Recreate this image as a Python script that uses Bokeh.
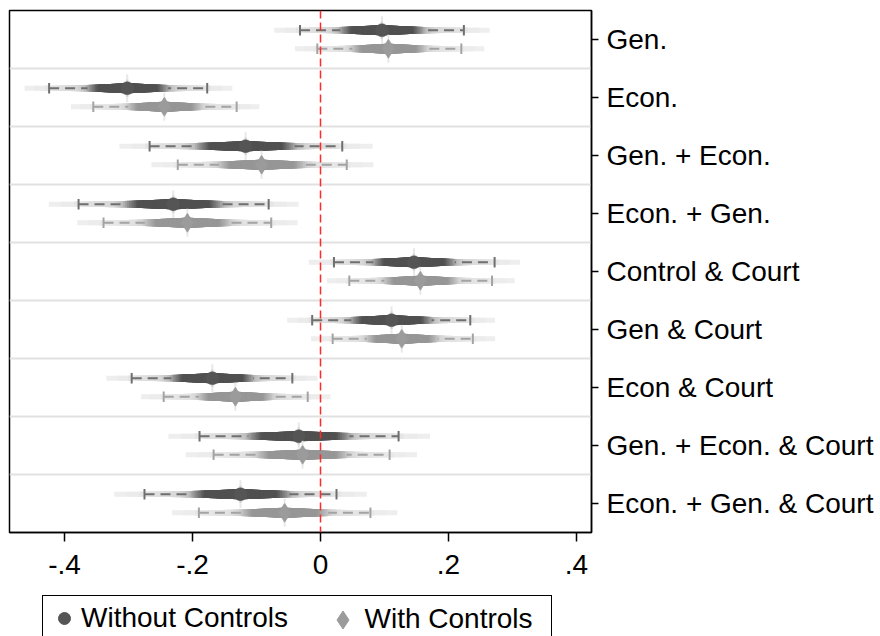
from statistics import NormalDist
import numpy as np
from bokeh.plotting import figure
from bokeh.layouts import column
from bokeh.models import FixedTicker, Span, Legend, LegendItem, Range1d
from bokeh.embed import file_html
from bokeh.resources import INLINE

# ---------------- data ----------------
categories = ["Gen.", "Econ.", "Gen. + Econ.", "Econ. + Gen.", "Control & Court",
              "Gen & Court", "Econ & Court", "Gen. + Econ. & Court", "Econ. + Gen. & Court"]

est_without = [0.096, -0.302, -0.117, -0.230, 0.146, 0.111, -0.169, -0.034, -0.125]
lo_without = [-0.032, -0.424, -0.267, -0.378, 0.021, -0.013, -0.295, -0.189, -0.275]
hi_without = [0.224, -0.177, 0.034, -0.081, 0.272, 0.234, -0.044, 0.122, 0.025]

est_with = [0.106, -0.244, -0.092, -0.208, 0.156, 0.127, -0.133, -0.028, -0.056]
lo_with = [-0.005, -0.355, -0.223, -0.339, 0.045, 0.019, -0.245, -0.167, -0.190]
hi_with = [0.220, -0.131, 0.041, -0.077, 0.268, 0.238, -0.020, 0.108, 0.078]

tick_values = [-0.4, -0.2, 0.0, 0.2, 0.4]
tick_labels = ["-.4", "-.2", "0", ".2", ".4"]
series_names = ["Without Controls", "With Controls"]

# ---------------- figure ----------------
FONT = "Liberation Sans"
n = len(categories)
ycent = [n - 0.5 - i for i in range(n)]

p = figure(frame_width=582, frame_height=522, output_backend="svg", toolbar_location=None,
           x_range=Range1d(-0.4859, 0.4234), y_range=Range1d(0, n),
           y_axis_location="right", min_border_left=9, min_border_top=10,
           min_border_bottom=63, min_border_right=0,
           background_fill_color="white", border_fill_color="white")
p.grid.visible = False
p.outline_line_color = "black"
p.outline_line_width = 1.5

# x axis
xa = p.xaxis[0]
xa.ticker = FixedTicker(ticks=tick_values)
xa.major_label_overrides = {v: l for v, l in zip(tick_values, tick_labels)}
xa.major_tick_out = 9
xa.major_tick_in = 0
xa.minor_tick_out = 0
xa.minor_tick_in = 0
xa.major_label_standoff = 13
xa.axis_line_width = 1.5
xa.major_tick_line_width = 1.5
xa.major_label_text_font = FONT
xa.major_label_text_font_size = "28px"
xa.major_label_text_color = "black"

# y axis (right)
ya = p.yaxis[0]
ya.ticker = FixedTicker(ticks=ycent)
ya.major_label_overrides = {v: c for v, c in zip(ycent, categories)}
ya.major_tick_out = 7
ya.major_tick_in = 0
ya.minor_tick_out = 0
ya.minor_tick_in = 0
ya.major_label_standoff = 8
ya.axis_line_width = 1.5
ya.major_tick_line_width = 1.5
ya.major_label_text_font = FONT
ya.major_label_text_font_size = "28px"
ya.major_label_text_color = "black"

# group separators
for k in range(1, n):
    p.add_layout(Span(location=k, dimension="width", line_color="#e1e1e1",
                      line_width=2, level="underlay"))

# ---------------- smoothed confidence spindles ----------------
levels = [0.99] + [i / 50 for i in range(49, 0, -1)]   # outer -> inner
LIGHT = (238, 238, 238)
t_knots_L = [0.0, 0.55, 0.65, 0.72, 0.80, 0.95, 0.99]
t_knots_t = [0.0, 0.0, 0.35, 0.70, 0.85, 0.92, 1.0]
Z95 = NormalDist().inv_cdf(0.975)


def blend(base, t):
    return "#%02x%02x%02x" % tuple(int(round(b + (l - b) * t)) for b, l in zip(base, LIGHT))


series = [
    dict(est=est_without, lo=lo_without, hi=hi_without, dy=0.16, base=(80, 80, 80),
         bar="#6f6f6f", marker="circle", msize=13, mcolor="#555555"),
    dict(est=est_with, lo=lo_with, hi=hi_with, dy=-0.16, base=(150, 150, 150),
         bar="#a3a3a3", marker="diamond", msize=19, mcolor="#9b9b9b"),
]

for s in series:
    ys = [c + s["dy"] for c in ycent]
    est, lo, hi = s["est"], s["lo"], s["hi"]
    # light vertical glow through the estimate
    p.segment(x0=est, x1=est, y0=[y - 0.24 for y in ys], y1=[y + 0.24 for y in ys],
              line_color="#e8e8e8", line_width=2)
    p.segment(x0=est, x1=est, y0=[y - 0.15 for y in ys], y1=[y + 0.15 for y in ys],
              line_color="#d8d8d8", line_width=2.5)

    dashed_done = False
    for L in levels:
        if L < 0.7 and not dashed_done:
            # 95% interval, dashed with caps
            p.segment(x0=lo, x1=hi, y0=ys, y1=ys, line_color=s["bar"], line_width=2,
                      line_dash="10 6")
            for xx in (lo, hi):
                p.segment(x0=xx, x1=xx, y0=[y - 0.09 for y in ys],
                          y1=[y + 0.09 for y in ys], line_color=s["bar"], line_width=2)
            dashed_done = True
        f = NormalDist().inv_cdf((1 + L) / 2) / Z95
        t = float(np.interp(L, t_knots_L, t_knots_t))
        w = 10.5 - 5.5 * L
        x0 = [e - f * (e - l) for e, l in zip(est, lo)]
        x1 = [e + f * (h - e) for e, h in zip(est, hi)]
        p.segment(x0=x0, x1=x1, y0=ys, y1=ys, line_color=blend(s["base"], t),
                  line_width=w, line_cap="butt")

    p.scatter(x=est, y=ys, marker=s["marker"], size=s["msize"],
              fill_color=s["mcolor"], line_color=s["mcolor"], line_width=0.5)

# zero line
p.add_layout(Span(location=0, dimension="height", line_color="#ff2a2a",
                  line_width=1.5, line_dash="8 4"))

# ---------------- legend (own strip below the chart) ----------------
lf = figure(width=873, height=41, output_backend="svg", toolbar_location=None,
            x_range=Range1d(0, 1), y_range=Range1d(0, 1),
            x_axis_type=None, y_axis_type=None,
            min_border_left=9, min_border_right=0, min_border_top=0, min_border_bottom=0,
            background_fill_color="white", border_fill_color="white")
lf.grid.visible = False
lf.outline_line_color = None
nan = np.array([np.nan])
r_dark = lf.scatter(x=nan, y=nan, marker="circle", fill_color="#555555",
                    line_color="#555555")
r_light = lf.scatter(x=nan, y=nan, marker="diamond",
                     fill_color="#9b9b9b", line_color="#9b9b9b")

# outer box + first entry
legend1 = Legend(items=[LegendItem(label=series_names[0], renderers=[r_dark])],
                 orientation="horizontal", location=(33, -5),
                 glyph_width=30, glyph_height=30, label_standoff=2,
                 padding=6, margin=0, label_width=464,
                 label_text_font=FONT, label_text_font_size="28px",
                 label_text_color="black",
                 border_line_color="black", border_line_width=1.5, border_line_alpha=1.0,
                 background_fill_color="white", background_fill_alpha=1.0)
lf.add_layout(legend1, "center")

# second entry (larger diamond glyph), drawn inside the same box
legend2 = Legend(items=[LegendItem(label=series_names[1], renderers=[r_light])],
                 orientation="horizontal", location=(310.5, -5.5),
                 glyph_width=45, glyph_height=45, label_standoff=-2,
                 padding=0, margin=0,
                 label_text_font=FONT, label_text_font_size="28px",
                 label_text_color="black",
                 border_line_color=None, background_fill_alpha=0.0)
lf.add_layout(legend2, "center")

layout = column(p, lf, spacing=0)
open("out.html", "w").write(file_html(layout, INLINE))
